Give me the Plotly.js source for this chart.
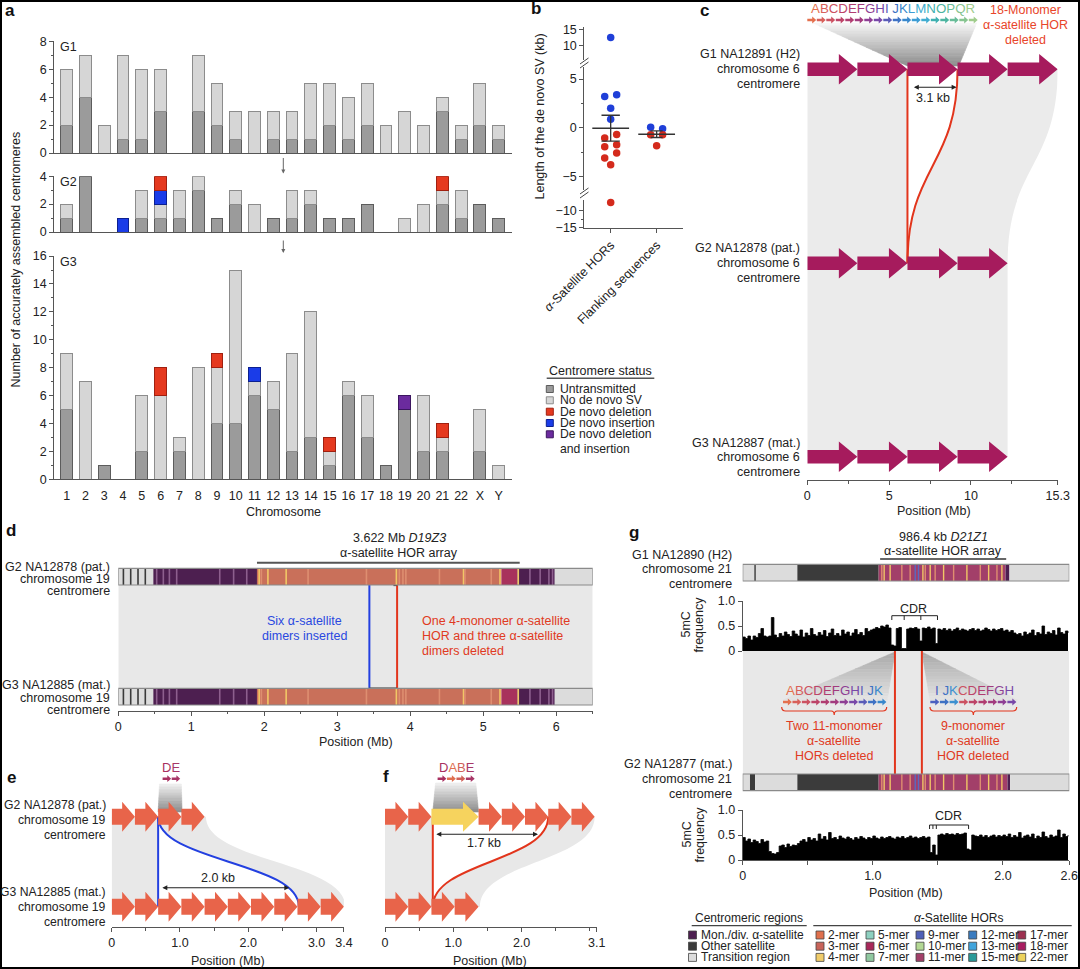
<!DOCTYPE html>
<html><head><meta charset="utf-8">
<script src="https://cdn.plot.ly/plotly-3.0.1.min.js"></script>
<style>html,body{margin:0;padding:0;background:#fff}#chart{width:1080px;height:969px}</style>
</head><body><div id="chart"></div>
<script>
// ================= DATA =================
// Panel a
const chromosomes = ['1','2','3','4','5','6','7','8','9','10','11','12','13','14','15','16','17','18','19','20','21','22','X','Y'];
const g1Untransmitted = [2,4,0,1,1,3,0,3,2,1,0,1,1,1,2,1,2,0,0,0,3,1,2,1];
const g1NoDeNovoSV    = [4,3,2,6,5,3,0,4,3,2,3,2,2,4,3,3,3,2,3,2,1,1,3,1];
const g2Untransmitted = [1,4,0,0,1,1,1,3,1,2,0,1,1,2,1,1,2,0,0,0,2,1,2,1];
const g2NoDeNovoSV    = [1,0,0,0,2,1,2,1,0,1,2,0,2,1,0,0,0,0,1,2,1,2,0,0];
const g2Insertion     = [0,0,0,1,0,1,0,0,0,0,0,0,0,0,0,0,0,0,0,0,0,0,0,0];
const g2Deletion      = [0,0,0,0,0,1,0,0,0,0,0,0,0,0,0,0,0,0,0,0,1,0,0,0];
const g3Untransmitted = [5,0,1,0,2,0,2,0,4,4,6,5,2,3,1,6,3,1,5,2,2,0,2,0];
const g3NoDeNovoSV    = [4,7,0,0,4,6,1,8,4,11,1,2,7,9,1,1,3,0,0,4,1,0,3,1];
const g3Insertion     = [0,0,0,0,0,0,0,0,0,0,1,0,0,0,0,0,0,0,0,0,0,0,0,0];
const g3Deletion      = [0,0,0,0,0,2,0,0,1,0,0,0,0,0,1,0,0,0,0,0,1,0,0,0];
const g3DelIns        = [0,0,0,0,0,0,0,0,0,0,0,0,0,0,0,0,0,0,1,0,0,0,0,0];
const statusLabels = ['Untransmitted','No de novo SV','De novo deletion','De novo insertion','De novo deletion'];

// Panel b (kb)
const horInsValues   = [12.4, 3.2, 3.4, 2.0, 0.86];
const horInsJitter   = [0, -0.13, 0.13, 0, 0];
const horDelValues   = [-0.7, -1.06, -1.75, -1.95, -2.6, -3.1, -3.8, -7.6];
const horDelJitter   = [0.13, -0.13, 0.13, -0.13, 0.13, -0.13, 0, 0];
const flankInsValues = [0.05, -0.1];
const flankInsJitter = [-0.13, 0.13];
const flankDelValues = [-0.72, -0.72, -1.85];
const flankDelJitter = [-0.13, 0.13, 0];
const bCategories = ['<i>α</i>-Satellite HORs', 'Flanking sequences'];

// Panel c (Mb)
const cG1HorBounds = [0, 3.06, 6.12, 9.18, 12.24, 15.3];
const cG2HorBounds = [0, 3.06, 6.12, 9.18, 12.24];
const cG3HorBounds = [0, 3.06, 6.12, 9.18, 12.24];
const cDeletedHor  = [6.12, 9.18];
const cInsetLetters = ['A','B','C','D','E','F','G','H','I','J','K','L','M','N','O','P','Q','R'];
const cInsetColors  = ['#e4704e','#d8605a','#cc5262','#bd4468','#b03c70','#a23a7e','#8e3e94','#7848a8','#5a5cb8','#3e72c4','#3888cc','#3c9cd4','#40acd0','#3eb0b0','#4cb4a0','#68bc98','#86c490','#a0cc8c'];

// Panel d (Mb)
const dSegStart = [0, 0.48, 1.90, 5.25, 5.47, 5.98];
const dSegEnd   = [0.48, 1.90, 5.25, 5.47, 5.98, 6.50];
const dSegType  = ['transition','monDiv','2-mer','6-mer','monDiv','transition'];
const dStripePos  = [0.07,0.17,0.27,0.37, 0.526,0.617,0.70,0.80,1.39,1.58,1.76, 1.93,1.96,2.05,2.30, 2.60,3.40,3.81,3.85,3.90,3.94,4.40,4.73,4.75,5.11,5.23, 5.48, 5.64,5.78,5.90,5.95];
const dStripeType = ['boundary','boundary','boundary','boundary','monDivLight','monDivLight','monDivLight','monDivLight','monDivLight','monDivLight','monDivLight','4-mer','2-merLight','4-mer','4-mer','2-merLight','2-merLight','4-mer','2-merLight','2-merLight','2-merLight','2-merLight','4-mer','2-merLight','2-merLight','4-mer','4-mer','monDivLight','monDivLight','monDivLight','monDivLight'];
const dArray = [1.9, 5.5];
const dInsertionPos = 3.44;
const dDeletionPos = 3.82;

// Panel e (Mb)
const eG2HorBounds = [0, 0.34, 0.68, 1.02, 1.36];
const eG3HorBounds = [0, 0.34, 0.68, 1.02, 1.36, 1.70, 2.04, 2.38, 2.72, 3.06, 3.40];
const eInsertion = [0.68, 2.74];
const eInsetLetters = ['D','E'];
const eInsetColors = ['#a83060','#a83868'];

// Panel f (Mb)
const fG2HorBounds = [0, 0.34, 0.68, 1.37, 1.71, 2.05, 2.39, 2.73, 3.07];
const fG2HorType   = ['std','std','new','std','std','std','std','std'];
const fG3HorBounds = [0, 0.34, 0.68, 1.02, 1.37];
const fDeletion = [0.70, 2.39];
const fInsetLetters = ['D','A','B','E'];
const fInsetColors = ['#a83060','#e07050','#d06058','#a83868'];

// Panel g (Mb)
const gG1SegStart = [0, 0.42, 1.045, 2.02, 2.05];
const gG1SegEnd   = [0.42, 1.045, 2.02, 2.05, 2.51];
const gG1SegType  = ['transition','other','11-mer','monDiv','transition'];
const gG2SegStart = [0, 0.056, 0.095, 0.42, 1.045, 2.035, 2.055];
const gG2SegEnd   = [0.056, 0.095, 0.42, 1.045, 2.035, 2.055, 2.51];
const gG2SegType  = ['transition','other','transition','other','11-mer','monDiv','transition'];
const gHorStripePos  = [1.069,1.087,1.133,1.223,1.287,1.326,1.351,1.385,1.403,1.441,1.479,1.544,1.621,1.723,1.826,1.890,1.954,1.992];
const gHorStripeType = ['2-merLight','4-mer','4-mer','2-merLight','2-merLight','9-mer','9-mer','4-mer','2-merLight','4-mer','2-merLight','4-mer','2-merLight','4-mer','2-merLight','4-mer','2-merLight','4-mer'];
const gG1BoundaryPos = [0.095];
const gArray = [1.056, 2.025];
const gDeletionPos = [1.17, 1.377];
const gCDR1 = [1.146, 1.497];
const gCDR1Marks = [1.146, 1.241, 1.369, 1.497];
const gCDR2 = [1.436, 1.736];
const gCDR2Marks = [1.436, 1.462, 1.488, 1.736];
const methylStep = 0.02;
const g1Methyl = [0.28,0.25,0.30,0.22,0.30,0.27,0.35,0.45,0.30,0.28,
  0.30,0.67,0.32,0.27,0.35,0.30,0.38,0.33,0.29,0.40,
  0.34,0.30,0.42,0.28,0.36,0.31,0.45,0.33,0.30,0.37,
  0.32,0.41,0.29,0.36,0.44,0.31,0.35,0.30,0.42,0.34,
  0.38,0.30,0.36,0.43,0.33,0.37,0.31,0.45,0.39,0.42,
  0.44,0.47,0.45,0.50,0.48,0.52,0.46,0.12,0.10,0.45,
  0.47,0.05,0.05,0.44,0.46,0.45,0.47,0.44,0.20,0.46,
  0.45,0.48,0.44,0.46,0.15,0.44,0.42,0.45,0.41,0.44,
  0.40,0.43,0.46,0.41,0.44,0.42,0.40,0.43,0.45,0.41,
  0.44,0.40,0.42,0.46,0.43,0.40,0.44,0.41,0.43,0.45,
  0.40,0.42,0.38,0.41,0.36,0.33,0.35,0.30,0.38,0.33,
  0.36,0.42,0.31,0.37,0.34,0.50,0.33,0.38,0.35,0.41,
  0.32,0.46,0.37,0.34,0.40,0.36];
const g2Methyl = [0.45,0.38,0.42,0.35,0.40,0.37,0.33,0.41,0.36,0.38,
  0.17,0.13,0.12,0.15,0.28,0.30,0.25,0.32,0.27,0.30,
  0.29,0.33,0.38,0.41,0.36,0.45,0.40,0.43,0.38,0.52,
  0.42,0.47,0.40,0.55,0.43,0.45,0.41,0.48,0.44,0.42,
  0.46,0.43,0.40,0.45,0.42,0.47,0.44,0.41,0.45,0.43,
  0.48,0.44,0.42,0.46,0.43,0.45,0.47,0.44,0.42,0.46,
  0.44,0.47,0.43,0.45,0.48,0.44,0.46,0.43,0.45,0.47,
  0.44,0.46,0.15,0.30,0.10,0.50,0.52,0.50,0.53,0.51,
  0.52,0.50,0.53,0.51,0.52,0.54,0.22,0.20,0.50,0.48,
  0.47,0.50,0.46,0.49,0.45,0.48,0.50,0.46,0.49,0.47,
  0.50,0.47,0.52,0.45,0.49,0.46,0.55,0.44,0.48,0.50,
  0.46,0.52,0.43,0.48,0.45,0.56,0.47,0.44,0.50,0.46,
  0.48,0.60,0.45,0.52,0.47,0.50];
const gLeftLetters  = ['A','B','C','D','E','F','G','H','I','J','K'];
const gLeftColors   = ['#e4704e','#d8605a','#cc5262','#bd4468','#b03c70','#a23a7e','#8e3e94','#7848a8','#5a5cb8','#3e72c4','#3888cc'];
const gRightLetters = ['I','J','K','C','D','E','F','G','H'];
const gRightColors  = ['#4a60c0','#3e72c4','#3c90d0','#cc5262','#bd4468','#b03c70','#a23a7e','#8e3e94','#7848a8'];
const regionLegendLabels = ['Mon./div. α-satellite','Other satellite','Transition region'];
const regionLegendTypes  = ['monDiv','other','transition'];
const horLegendLabels = ['2-mer','3-mer','4-mer','5-mer','6-mer','7-mer','9-mer','10-mer','11-mer','12-mer','13-mer','15-mer','17-mer','18-mer','22-mer'];
const horLegendColors = ['#e0704c','#c8645a','#f0cc6a','#8ed0c0','#a8285a','#90c8a0','#5060b8','#b4d894','#a23f69','#3a7cc0','#40a4dc','#2a9a98','#9c3050','#a81c60','#ecd25c'];

// ================= STYLE / HELPERS =================
const W = 1080, H = 969;
const FONT = '"Liberation Sans", Arial, Helvetica, sans-serif';
const xd = (a, b) => [a / W, b / W];
const yd = (top, bot) => [1 - bot / H, 1 - top / H];
const shapes = [], annotations = [], data = [];
const regionColors = {transition:'#dcdcdc', other:'#3b3b3b', monDiv:'#4d1f50', monDivLight:'#8d5f8e',
  '2-mer':'#c9705a', '2-merLight':'#de8e70', '4-mer':'#f1c766', '6-mer':'#a8325c', '9-mer':'#5a68c0',
  '11-mer':'#a23f69', boundary:'#3a3a3a'};
const statusStyle = [
  {fill:'#9b9b9b', line:'#5c5c5c'}, {fill:'#d6d6d6', line:'#8c8c8c'},
  {fill:'#e5391f', line:'#a02010'}, {fill:'#1a3ce8', line:'#0c2090'}, {fill:'#6b2b9e', line:'#3c1660'}];
const RED = '#e2351c', BLUE = '#2340e0', ARROWC = '#a61b5d', CORAL = '#e8644a';

function T(t, x, y, o) {
  o = o || {};
  annotations.push({text: o.bold ? '<b>' + t + '</b>' : t, xref:'paper', yref:'paper', x: x / W, y: 1 - y / H,
    xanchor: o.xa || 'center', yanchor:'middle', align: o.xa === 'right' ? 'right' : (o.xa === 'left' ? 'left' : 'center'),
    showarrow:false, textangle: o.angle || 0, borderpad:0,
    font:{family:FONT, size:o.size || 12.5, color:o.color || '#222'}});
}
function TD(t, xref, xv, y, o) {
  o = o || {};
  annotations.push({text:t, xref:xref, yref:'y20', x:xv, y:y, xanchor:o.xa || 'center', yanchor:'middle',
    showarrow:false, borderpad:0, font:{family:FONT, size:o.size || 12.5, color:o.color || '#222'}});
}
function lines(arr, x, y0, gap, o) { arr.forEach((l, i) => T(l, x, y0 + i * gap, o)); }
function rect(xref, x0, x1, y0, y1, fill, lc, lw) {
  shapes.push({type:'rect', xref:xref, yref:'y20', x0:x0, x1:x1, y0:y0, y1:y1,
    fillcolor: fill || 'rgba(0,0,0,0)', line:{color: lc || 'rgba(0,0,0,0)', width: lw || 0}, layer:'above'});
}
function seg(xref, x0, y0, x1, y1, color, width) {
  shapes.push({type:'line', xref:xref, yref:'y20', x0:x0, y0:y0, x1:x1, y1:y1, line:{color:color, width:width}, layer:'above'});
}
function pth(xref, d, fill, lc, lw) {
  shapes.push({type:'path', xref:xref, yref:'y20', path:d, fillcolor: fill || 'rgba(0,0,0,0)',
    line:{color: lc || 'rgba(0,0,0,0)', width: lw || 0}, layer:'above'});
}
function horArrow(xref, x0, x1, yc, bh, hh, frac, color) {
  const xm = x0 + (x1 - x0) * frac;
  pth(xref, `M${x0},${yc-bh} L${xm},${yc-bh} L${xm},${yc-hh} L${x1},${yc} L${xm},${yc+hh} L${xm},${yc+bh} L${x0},${yc+bh} Z`, color, null, 0);
}
function hex2rgb(h) { h = h.replace('#',''); return [0,2,4].map(i => parseInt(h.slice(i, i + 2), 16)); }
function mix(c1, c2, t) { const a = hex2rgb(c1), b = hex2rgb(c2); return 'rgb(' + a.map((v, i) => Math.round(v + (b[i] - v) * t)).join(',') + ')'; }
function gradTrap(xref, xTL, xTR, yT, xBL, xBR, yB, c1, c2, n) {
  for (let i = 0; i < n; i++) {
    const t0 = i / n, t1 = (i + 1) / n;
    const y0 = yT + (yB - yT) * t0, y1 = yT + (yB - yT) * t1;
    const l0 = xTL + (xBL - xTL) * t0, r0 = xTR + (xBR - xTR) * t0, l1 = xTL + (xBL - xTL) * t1, r1 = xTR + (xBR - xTR) * t1;
    const col = mix(c1, c2, (t0 + t1) / 2);
    pth(xref, `M${l0},${y0} L${r0},${y0} L${r1},${y1} L${l1},${y1} Z`, col, col, 0.6);
  }
}
function smallArrows(colors, xLeft, xRight, yc) {
  const step = (xRight - xLeft) / colors.length;
  colors.forEach((c, i) => horArrow('x20', xLeft + i * step + 0.3, xLeft + (i + 1) * step - 0.3, yc, 1.2, 3.4, 0.55, c));
}
function coloredLetters(letters, colors, gapAfter) {
  return letters.map((L, i) => `<span style="color:${colors[i]}">${L}</span>` + (gapAfter.indexOf(i) >= 0 ? ' ' : '')).join('');
}
function dblArrow(xref, xa, xb, y) {
  annotations.push({text:'', xref:xref, yref:'y20', x:xb, y:y, axref:xref, ayref:'y20', ax:xa, ay:y,
    showarrow:true, arrowhead:2, startarrowhead:2, arrowside:'end+start', arrowsize:0.9, arrowwidth:1.1,
    arrowcolor:'#222', standoff:0, startstandoff:0});
}
function regionBar(xref, starts, ends, types, sPos, sTypes, yTop, yBot, sw) {
  starts.forEach((s, i) => rect(xref, s, ends[i], yTop, yBot, regionColors[types[i]]));
  sPos.forEach((p, i) => seg(xref, p, yTop, p, yBot, regionColors[sTypes[i]], sw));
  rect(xref, starts[0], ends[ends.length - 1], yTop, yBot, null, '#8a8a8a', 1.2);
}
const axBase = {showgrid:false, zeroline:false, showline:true, linecolor:'#555', linewidth:1, ticks:'outside',
  ticklen:4, tickwidth:1, tickcolor:'#555', tickfont:{family:FONT, size:12.5, color:'#222'}, fixedrange:true};
const ax = o => Object.assign({}, axBase, o);
const hid = o => Object.assign({visible:false, fixedrange:true, range:[0,1]}, o);
const minor = vals => ({tickmode:'array', tickvals:vals, ticks:'outside', ticklen:2.5, tickcolor:'#555'});

// ================= TRACES =================
data.push({type:'scatter', x:[0], y:[0], xaxis:'x20', yaxis:'y20', mode:'markers', marker:{opacity:0}, hoverinfo:'skip'});
[['x5','y7'],['x6','y8'],['x7','y9'],['x8','y10']].forEach(p => data.push({type:'scatter', x:[-100], y:[-100],
  xaxis:p[0], yaxis:p[1], mode:'markers', marker:{opacity:0}, hoverinfo:'skip'}));

function bars(vals, st, xa, ya) {
  data.push({type:'bar', x:chromosomes, y:vals.map(v => v === 0 ? null : v), xaxis:xa, yaxis:ya,
    marker:{color:st.fill, line:{color:st.line, width:1}}, hoverinfo:'skip'});
}
bars(g1Untransmitted, statusStyle[0], 'x', 'y');
bars(g1NoDeNovoSV, statusStyle[1], 'x', 'y');
bars(g2Untransmitted, statusStyle[0], 'x2', 'y2');
bars(g2NoDeNovoSV, statusStyle[1], 'x2', 'y2');
bars(g2Insertion, statusStyle[3], 'x2', 'y2');
bars(g2Deletion, statusStyle[2], 'x2', 'y2');
bars(g3Untransmitted, statusStyle[0], 'x3', 'y3');
bars(g3NoDeNovoSV, statusStyle[1], 'x3', 'y3');
bars(g3Insertion, statusStyle[3], 'x3', 'y3');
bars(g3Deletion, statusStyle[2], 'x3', 'y3');
bars(g3DelIns, statusStyle[4], 'x3', 'y3');

// panel b points
function bSeg(v) { return v > 5 ? 'y4' : (v < -6.5 ? 'y6' : 'y5'); }
function dots(vals, jit, base, color) {
  const g = {};
  vals.forEach((v, i) => { const a = bSeg(v); g[a] = g[a] || {x:[], y:[]}; g[a].x.push(base + jit[i]); g[a].y.push(v); });
  Object.keys(g).forEach(a => data.push({type:'scatter', mode:'markers', x:g[a].x, y:g[a].y, xaxis:'x4', yaxis:a,
    marker:{color:color, size:7.5}, cliponaxis:false, hoverinfo:'skip'}));
}
dots(horInsValues, horInsJitter, 1, '#1f3fd8');
dots(horDelValues, horDelJitter, 1, '#d42a1c');
dots(flankInsValues, flankInsJitter, 2, '#1f3fd8');
dots(flankDelValues, flankDelJitter, 2, '#d42a1c');
function meanSem(a) {
  const n = a.length, m = a.reduce((s, v) => s + v, 0) / n;
  const sd = Math.sqrt(a.reduce((s, v) => s + (v - m) * (v - m), 0) / (n - 1));
  return [m, sd / Math.sqrt(n)];
}
[[horInsValues.concat(horDelValues), 1, 0.4, 0.2], [flankInsValues.concat(flankDelValues), 2, 0.4, 0.13]].forEach(r => {
  const ms = meanSem(r[0]), xc = r[1];
  const L = (x0, y0, x1, y1, w) => shapes.push({type:'line', xref:'x4', yref:'y5', x0:x0, y0:y0, x1:x1, y1:y1, line:{color:'#333', width:w}, layer:'above'});
  L(xc - r[2], ms[0], xc + r[2], ms[0], 1.6);
  L(xc, ms[0] - ms[1], xc, ms[0] + ms[1], 1.3);
  L(xc - r[3], ms[0] + ms[1], xc + r[3], ms[0] + ms[1], 1.3);
  L(xc - r[3], ms[0] - ms[1], xc + r[3], ms[0] - ms[1], 1.3);
});

// panel g methylation
[[g1Methyl, 'y11'], [g2Methyl, 'y12']].forEach(m => data.push({type:'scatter', mode:'lines', y:m[0], x0:0, dx:methylStep,
  xaxis:'x9', yaxis:m[1], line:{color:'#000', width:0.8, shape:'hv'}, fill:'tozeroy', fillcolor:'#000', hoverinfo:'skip'}));

// ================= PANEL a decorations =================
T('a', 10, 10, {bold:true, size:17, color:'#111'});
T('G1', 59, 46.7, {xa:'left'}); T('G2', 59, 182, {xa:'left'}); T('G3', 59, 261.8, {xa:'left'});
T('Number of accurately assembled centromeres', 15.5, 260, {angle:-90});
T('Chromosome', 283, 512);
annotations.push({text:'', xref:'paper', yref:'paper', x:283.3 / W, y:1 - 173.5 / H, ax:0, ay:-17, showarrow:true,
  arrowhead:2, arrowsize:0.8, arrowwidth:1, arrowcolor:'#666'});
annotations.push({text:'', xref:'paper', yref:'paper', x:283.3 / W, y:1 - 253 / H, ax:0, ay:-14, showarrow:true,
  arrowhead:2, arrowsize:0.8, arrowwidth:1, arrowcolor:'#666'});
// legend a
T('Centromere status', 600, 371);
seg('x20', 546.7, 378.3, 654.3, 378.3, '#555', 1.5);
[389, 400.3, 411.7, 423, 434.3].forEach((y, i) => {
  rect('x20', 546.3, 553.3, y - 3.5, y + 3.5, statusStyle[i].fill, statusStyle[i].line, 1);
  T(statusLabels[i], 558.5, y, {xa:'left', size:12.2});
});
T('and insertion', 558.5, 449, {xa:'left', size:12.2});

// ================= PANEL b decorations =================
T('b', 536, 9, {bold:true, size:17, color:'#111'});
T('Length of the de novo SV (kb)', 539.5, 117, {angle:-90});
[[64, 58], [68, 62], [194, 188], [198, 192]].forEach(p => seg('x20', 580, p[0], 588.5, p[1], '#444', 1));

// ================= PANEL c =================
T('c', 704, 10, {bold:true, size:17, color:'#111'});
const cY1 = 69.3, cY2 = 263.3, cY3 = 456.7, cMid = (cY1 + cY2) / 2;
const cEnd1 = cG1HorBounds[cG1HorBounds.length - 1], cEnd2 = cG2HorBounds[cG2HorBounds.length - 1];
pth('x5', `M0,${cY1} L${cEnd1},${cY1} C${cEnd1},${cMid} ${cEnd2},${cMid} ${cEnd2},${cY2} L0,${cY2} Z`, '#ebebeb');
rect('x5', 0, cG3HorBounds[cG3HorBounds.length - 1], cY2, cY3, '#ebebeb');
pth('x5', `M${cDeletedHor[0]},${cY1} L${cDeletedHor[1]},${cY1} C${cDeletedHor[1]},${cMid} ${cDeletedHor[0]},${cMid} ${cDeletedHor[0]},${cY2} Z`, '#ffffff');
seg('x5', cDeletedHor[0], cY1, cDeletedHor[0], cY2, RED, 2);
pth('x5', `M${cDeletedHor[1]},${cY1} C${cDeletedHor[1]},${cMid} ${cDeletedHor[0]},${cMid} ${cDeletedHor[0]},${cY2}`, null, RED, 2);
gradTrap('x5', 0.35, 10.35, 23, cDeletedHor[0], 9.25, 66, '#f8f8f8', '#8c8c8c', 16);
[[cG1HorBounds, cY1], [cG2HorBounds, cY2], [cG3HorBounds, cY3]].forEach(r => {
  for (let i = 0; i < r[0].length - 1; i++) horArrow('x5', r[0][i], r[0][i + 1], r[1], 6.7, 15.3, 0.63, ARROWC);
});
smallArrows(cInsetColors, 807, 978, 20);
T(coloredLetters(cInsetLetters, cInsetColors, [8]), 893, 8.3, {size:13.3});
lines(['18-Monomer', 'α-satellite HOR', 'deleted'], 1025, 10, 15, {color:'#e8452a'});
dblArrow('x5', 6.42, 9.12, 87.3);
TD('3.1 kb', 'x5', 7.7, 98.3);
lines(['G1 NA12891 (H2)', 'chromosome 6', 'centromere'], 801, 54, 15, {xa:'right'});
lines(['G2 NA12878 (pat.)', 'chromosome 6', 'centromere'], 801, 248.3, 14.7, {xa:'right'});
lines(['G3 NA12887 (mat.)', 'chromosome 6', 'centromere'], 801, 442.7, 14.5, {xa:'right'});
T('Position (Mb)', 934, 510.7);

// ================= PANEL d =================
T('d', 11, 530, {bold:true, size:17, color:'#111'});
rect('x6', 0, dSegEnd[dSegEnd.length - 1], 585, 688.3, '#e8e8e8');
seg('x6', dInsertionPos, 585, dInsertionPos, 688.3, BLUE, 2);
seg('x6', dDeletionPos, 585, dDeletionPos, 688.3, RED, 2);
seg('x6', dInsertionPos, 688, dDeletionPos, 688, '#333', 1);
seg('x6', dDeletionPos - 0.05, 585.6, dDeletionPos, 585.6, '#333', 1);
regionBar('x6', dSegStart, dSegEnd, dSegType, dStripePos, dStripeType, 568.3, 585, 1.6);
regionBar('x6', dSegStart, dSegEnd, dSegType, dStripePos, dStripeType, 688.3, 705, 1.6);
seg('x6', dArray[0], 562.7, dArray[1], 562.7, '#555', 2);
T('3.622 Mb <i>D19Z3</i>', 399, 537.7);
T('α-satellite HOR array', 399, 553.3);
lines(['Six α-satellite', 'dimers inserted'], 304.7, 621, 15, {color:'#2a48e0'});
lines(['One 4-monomer α-satellite', 'HOR and three α-satellite', 'dimers deleted'], 420.5, 621, 15, {xa:'left', color:'#e03a22'});
lines(['G2 NA12878 (pat.)', 'chromosome 19', 'centromere'], 111, 566.7, 12.3, {xa:'right'});
lines(['G3 NA12885 (mat.)', 'chromosome 19', 'centromere'], 111, 685, 12.5, {xa:'right'});
T('Position (Mb)', 356, 742);

// ================= PANEL e =================
T('e', 11, 777, {bold:true, size:17, color:'#111'});
const eY2 = 816.7, eY3 = 906.7, eMid = (eY2 + eY3) / 2;
const eEnd2 = eG2HorBounds[eG2HorBounds.length - 1] + 0.02, eEnd3 = eG3HorBounds[eG3HorBounds.length - 1] + 0.02;
pth('x7', `M0,${eY2} L${eEnd2},${eY2} C${eEnd2},${eMid} ${eEnd3},${eMid} ${eEnd3},${eY3} L0,${eY3} Z`, '#e8e8e8');
pth('x7', `M${eInsertion[0]},${eY2} C${eInsertion[0]},${eMid} ${eInsertion[1]},${eMid} ${eInsertion[1]},${eY3} L${eInsertion[0]},${eY3} Z`, '#ffffff');
seg('x7', eInsertion[0], eY2, eInsertion[0], eY3, BLUE, 2);
pth('x7', `M${eInsertion[0]},${eY2} C${eInsertion[0]},${eMid} ${eInsertion[1]},${eMid} ${eInsertion[1]},${eY3}`, null, BLUE, 2);
gradTrap('x7', 0.70, 1.02, 784, 0.68, 1.03, 812, '#f2f2f2', '#8a8a8a', 10);
for (let i = 0; i < eG2HorBounds.length - 1; i++) horArrow('x7', eG2HorBounds[i], eG2HorBounds[i + 1], eY2, 8, 15, 0.45, CORAL);
for (let i = 0; i < eG3HorBounds.length - 1; i++) horArrow('x7', eG3HorBounds[i], eG3HorBounds[i + 1], eY3, 8, 15, 0.45, CORAL);
smallArrows(eInsetColors, 162.3, 180.5, 778.7);
T(coloredLetters(eInsetLetters, eInsetColors, []), 171.3, 767.3, {size:13});
dblArrow('x7', 0.72, 2.6, 887.7);
TD('2.0 kb', 'x7', 1.56, 878);
lines(['G2 NA12878 (pat.)', 'chromosome 19', 'centromere'], 106.7, 805, 15, {xa:'right', size:12.2});
lines(['G3 NA12885 (mat.)', 'chromosome 19', 'centromere'], 106.7, 892.3, 15, {xa:'right', size:12.2});
T('Position (Mb)', 228.3, 960.7);

// ================= PANEL f =================
T('f', 386, 776, {bold:true, size:17, color:'#111'});
const fEnd2 = fG2HorBounds[fG2HorBounds.length - 1], fEnd3 = fG3HorBounds[fG3HorBounds.length - 1] + 0.02;
pth('x8', `M0,${eY2} L${fEnd2},${eY2} C${fEnd2},${eMid} ${fEnd3},${eMid} ${fEnd3},${eY3} L0,${eY3} Z`, '#e8e8e8');
pth('x8', `M${fDeletion[0]},${eY2} L${fDeletion[1]},${eY2} C${fDeletion[1]},${eMid} ${fDeletion[0]},${eMid} ${fDeletion[0]},${eY3} Z`, '#ffffff');
seg('x8', fDeletion[0], eY2, fDeletion[0], eY3, RED, 2);
pth('x8', `M${fDeletion[1]},${eY2} C${fDeletion[1]},${eMid} ${fDeletion[0]},${eMid} ${fDeletion[0]},${eY3}`, null, RED, 2);
gradTrap('x8', 0.74, 1.33, 783, 0.70, 1.37, 812, '#f2f2f2', '#8a8a8a', 10);
for (let i = 0; i < fG2HorBounds.length - 1; i++) {
  const isNew = fG2HorType[i] === 'new';
  horArrow('x8', fG2HorBounds[i], fG2HorBounds[i + 1], eY2, 8, 15, isNew ? 0.67 : 0.45, isNew ? '#f6d35e' : CORAL);
}
for (let i = 0; i < fG3HorBounds.length - 1; i++) horArrow('x8', fG3HorBounds[i], fG3HorBounds[i + 1], eY3, 8, 15, 0.45, CORAL);
smallArrows(fInsetColors, 437.3, 475, 778.7);
T(coloredLetters(fInsetLetters, fInsetColors, []), 456.7, 767.3, {size:13});
dblArrow('x8', 0.73, 2.24, 834.3);
TD('1.7 kb', 'x8', 1.45, 843.3);
T('Position (Mb)', 490, 960.7);

// ================= PANEL g =================
T('g', 634, 532.5, {bold:true, size:17, color:'#111'});
const gEnd = gG1SegEnd[gG1SegEnd.length - 1];
rect('x9', 0, gEnd, 651, 774, '#e8e8e8');
gradTrap('x9', gDeletionPos[0], gDeletionPos[0], 652, 0.31, 1.11, 700, '#a8a8a8', '#e4e4e4', 14);
gradTrap('x9', gDeletionPos[1], gDeletionPos[1], 652, 1.44, 2.11, 700, '#a8a8a8', '#e4e4e4', 14);
gDeletionPos.forEach(p => seg('x9', p, 651, p, 774, RED, 2));
regionBar('x9', gG1SegStart, gG1SegEnd, gG1SegType, gHorStripePos.concat(gG1BoundaryPos), gHorStripeType.concat(['boundary']), 564.3, 581, 1.4);
regionBar('x9', gG2SegStart, gG2SegEnd, gG2SegType, gHorStripePos, gHorStripeType, 774, 790.7, 1.4);
seg('x9', gArray[0], 559, gArray[1], 559, '#333', 1.5);
T('986.4 kb <i>D21Z1</i>', 943, 536.7);
T('α-satellite HOR array', 943, 551);
lines(['G1 NA12890 (H2)', 'chromosome 21', 'centromere'], 733.3, 555, 14.3, {xa:'right'});
lines(['G2 NA12877 (mat.)', 'chromosome 21', 'centromere'], 733.3, 764.3, 14.8, {xa:'right'});
T('5mC', 685.5, 625, {angle:-90}); T('frequency', 698.5, 625, {angle:-90});
T('5mC', 686.5, 835, {angle:-90}); T('frequency', 699.5, 835, {angle:-90});
// CDR brackets
seg('x9', gCDR1[0], 615.7, gCDR1[1], 615.7, '#222', 1);
gCDR1Marks.forEach(m => seg('x9', m, 615.7, m, 620, '#222', 1));
TD('CDR', 'x9', 1.31, 608.5);
seg('x9', gCDR2[0], 825, gCDR2[1], 825, '#222', 1);
gCDR2Marks.forEach(m => seg('x9', m, 825, m, 829, '#222', 1));
TD('CDR', 'x9', 1.585, 816);
// insets
smallArrows(gLeftColors, 782.7, 886.7, 702);
T(coloredLetters(gLeftLetters, gLeftColors, [8]), 834, 690.7, {size:13.3});
smallArrows(gRightColors, 930, 1016.7, 702);
T(coloredLetters(gRightLetters, gRightColors, [0]), 974, 690.7, {size:13.3});
function brace(x0, x1, y) {
  const xm = (x0 + x1) / 2;
  pth('x20', `M${x0},${y-4} Q${x0},${y} ${x0+4},${y} L${xm-3},${y} Q${xm},${y} ${xm},${y+4} Q${xm},${y} ${xm+3},${y} L${x1-4},${y} Q${x1},${y} ${x1},${y-4}`, null, RED, 1.2);
}
brace(781.7, 886.7, 711); brace(930, 1016.7, 711);
lines(['Two 11-monomer', 'α-satellite', 'HORs deleted'], 834.3, 726, 15, {color:'#e03a22'});
lines(['9-monomer', 'α-satellite', 'HOR deleted'], 973.3, 726, 15, {color:'#e03a22'});
T('Position (Mb)', 906, 892.7);
// legend g
T('Centromeric regions', 749, 918.3, {size:12});
seg('x20', 691.7, 925.7, 806.7, 925.7, '#444', 1.3);
T('<i>α</i>-Satellite HORs', 959, 918.3, {size:12});
seg('x20', 813.3, 925.7, 1071.7, 925.7, '#444', 1.3);
const legRows = [935, 946.2, 957.4];
regionLegendLabels.forEach((l, i) => {
  rect('x20', 688.5, 696.5, legRows[i] - 4, legRows[i] + 4, regionColors[regionLegendTypes[i]], '#444', 0.8);
  T(l, 700, legRows[i], {xa:'left', size:12});
});
const legCols = [[820, 827], [870, 877], [920, 927], [972.7, 979.5], [1021.7, 1028.5]];
horLegendLabels.forEach((l, i) => {
  const c = legCols[Math.floor(i / 3)], y = legRows[i % 3];
  rect('x20', c[0] - 4, c[0] + 4, y - 4, y + 4, horLegendColors[i], '#444', 0.8);
  T(l, c[1], y, {xa:'left', size:12});
});
// outer frame
shapes.push({type:'rect', xref:'paper', yref:'paper', x0:0, x1:1, y0:0, y1:1, line:{color:'#000', width:4}, fillcolor:'rgba(0,0,0,0)', layer:'above'});

// ================= LAYOUT =================
const catAx = {type:'category', categoryorder:'array', categoryarray:chromosomes, range:[-0.67, 23.72]};
const layout = {
  width:W, height:H, margin:{l:0, r:0, t:0, b:0}, paper_bgcolor:'#ffffff', plot_bgcolor:'rgba(0,0,0,0)',
  showlegend:false, barmode:'stack', bargap:0.37, font:{family:FONT, size:12.5, color:'#222'},
  xaxis: ax(Object.assign({domain:xd(54.1, 512.2), anchor:'y', showticklabels:false, ticks:''}, catAx)),
  yaxis: ax({domain:yd(41.2, 153.1), anchor:'x', range:[0, 8], tickmode:'array', tickvals:[0,2,4,6,8], minor:minor([1,3,5,7])}),
  xaxis2: ax(Object.assign({domain:xd(54.1, 512.2), anchor:'y2', showticklabels:false, ticks:''}, catAx)),
  yaxis2: ax({domain:yd(176.2, 232), anchor:'x2', range:[0, 4], tickmode:'array', tickvals:[0,2,4], minor:minor([1,3])}),
  xaxis3: ax(Object.assign({domain:xd(54.1, 512.2), anchor:'y3', ticklen:5, tickcolor:'rgba(0,0,0,0)'}, catAx)),
  yaxis3: ax({domain:yd(256.1, 479.2), anchor:'x3', range:[0, 16], tickmode:'array', tickvals:[0,2,4,6,8,10,12,14,16], minor:minor([1,3,5,7,9,11,13,15])}),
  xaxis4: ax({domain:xd(584.3, 683.3), anchor:'y6', range:[0.426, 2.58], tickmode:'array', tickvals:[1, 2], ticktext:bCategories, tickangle:-45}),
  yaxis4: ax({domain:yd(26.7, 60), anchor:'x4', range:[5.4, 15.8], tickmode:'array', tickvals:[10, 15]}),
  yaxis5: ax({domain:yd(67, 190), anchor:'x4', range:[-6.4, 6.24], tickmode:'array', tickvals:[-5, 0, 5], ticktext:['−5','0','5'], minor:minor([-2.5, 2.5])}),
  yaxis6: ax({domain:yd(200, 228), anchor:'x4', range:[-15.1, -6.85], tickmode:'array', tickvals:[-15, -10], ticktext:['−15','−10'], minor:minor([-12.5])}),
  xaxis5: ax({domain:xd(807.3, 1057.7), anchor:'y7', range:[0, 15.3], tickmode:'array', tickvals:[0, 5, 10, 15.3], ticktext:['0','5','10','15.3'], minor:minor([2.5, 7.5, 12.5])}),
  yaxis7: hid({domain:yd(0, 480), anchor:'x5'}),
  xaxis6: ax({domain:xd(118.3, 592.7), anchor:'y8', range:[0, 6.5], tickmode:'array', tickvals:[0,1,2,3,4,5,6], minor:minor([0.5,1.5,2.5,3.5,4.5,5.5,6.5])}),
  yaxis8: hid({domain:yd(525, 710.7), anchor:'x6'}),
  xaxis7: ax({domain:xd(111.7, 343.9), anchor:'y9', range:[0, 3.4], tickmode:'array', tickvals:[0,1,2,3,3.4], ticktext:['0','1.0','2.0','3.0','3.4'], minor:minor([0.5,1.5,2.5])}),
  yaxis9: hid({domain:yd(760, 927.3), anchor:'x7'}),
  xaxis8: ax({domain:xd(385, 596.7), anchor:'y10', range:[0, 3.1], tickmode:'array', tickvals:[0,1,2,3.1], ticktext:['0','1.0','2.0','3.1'], minor:minor([0.5,1.5,2.5,3.0])}),
  yaxis10: hid({domain:yd(760, 927.3), anchor:'x8'}),
  xaxis9: ax({domain:xd(742.7, 1069.3), anchor:'y12', range:[0, 2.51], tickmode:'array', tickvals:[0,0.5,1,1.5,2,2.51], ticktext:['0','','1.0','','2.0','2.6']}),
  yaxis11: ax({domain:yd(601, 651), anchor:'x9', range:[0, 1], tickmode:'array', tickvals:[0, 0.5, 1], ticktext:['0','0.5','1.0']}),
  yaxis12: ax({domain:yd(810, 860), anchor:'x9', range:[0, 1], tickmode:'array', tickvals:[0, 0.5, 1], ticktext:['0','0.5','1.0']}),
  xaxis20: {domain:[0, 1], anchor:'y20', range:[0, W], visible:false, fixedrange:true},
  yaxis20: {domain:[0, 1], anchor:'x20', range:[H, 0], visible:false, fixedrange:true},
  shapes:shapes, annotations:annotations
};
Plotly.newPlot('chart', data, layout, {staticPlot:true, displayModeBar:false});
</script>
</body></html>
